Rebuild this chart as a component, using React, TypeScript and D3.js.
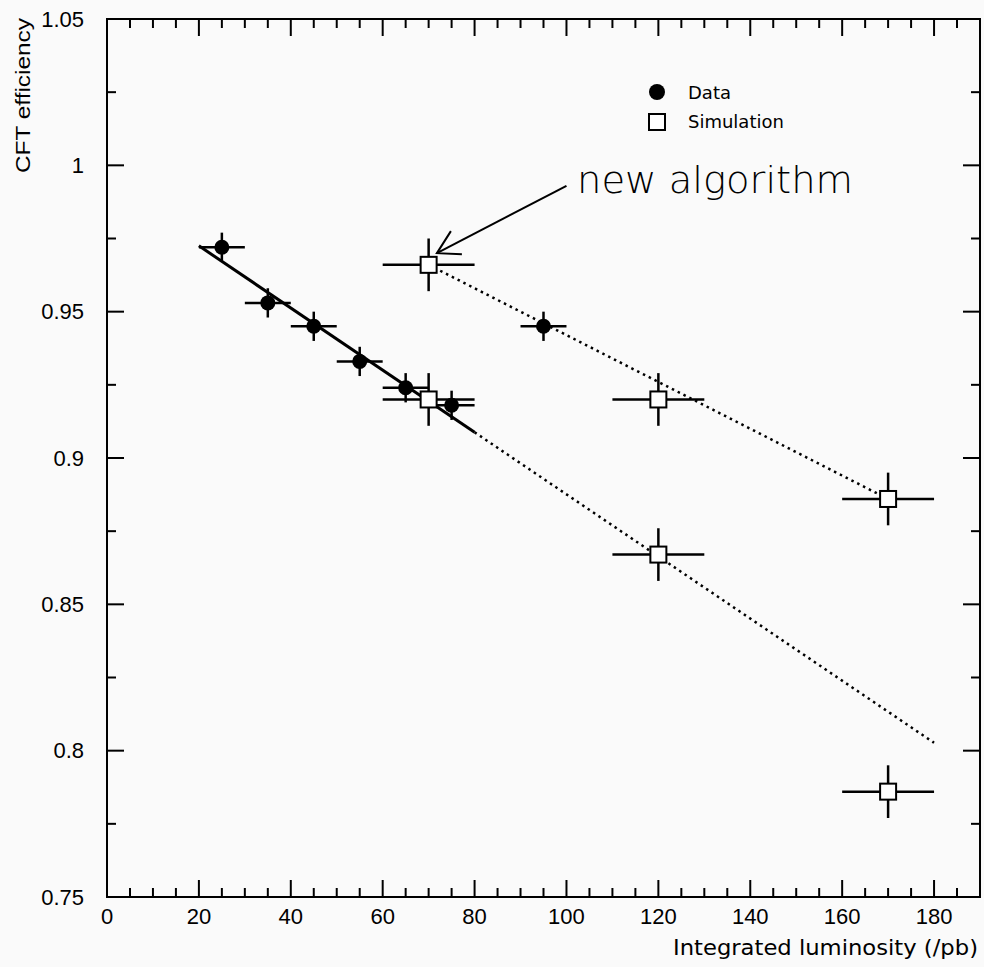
import React from 'react';
import * as d3 from 'd3';

// measured points
const dataLumi = [25, 35, 45, 55, 65, 75, 95];
const dataEff = [0.972, 0.953, 0.945, 0.933, 0.924, 0.918, 0.945];
const dataLumiErr = [5, 5, 5, 5, 5, 5, 5];
const dataEffErr = [0.005, 0.005, 0.005, 0.005, 0.005, 0.005, 0.005];

// simulation points
const simLumi = [70, 70, 120, 120, 170, 170];
const simEff = [0.966, 0.92, 0.92, 0.867, 0.886, 0.786];
const simLumiErr = [10, 10, 10, 10, 10, 10];
const simEffErr = [0.009, 0.009, 0.009, 0.009, 0.009, 0.009];

// straight-line fits
const fitOldLumi = [20, 80, 180];
const fitOldEff = [0.9725, 0.9088, 0.8027];
const fitNewLumi = [70, 170];
const fitNewEff = [0.966, 0.886];

const xMajor = [0, 20, 40, 60, 80, 100, 120, 140, 160, 180];
const yMajor = [0.75, 0.8, 0.85, 0.9, 0.95, 1, 1.05];
const yLabels = ['0.75', '0.8', '0.85', '0.9', '0.95', '1', '1.05'];

const W = 984;
const H = 967;
const margin = { top: 19, right: 4, bottom: 70, left: 107 };

const App = () => {
  const x = d3.scaleLinear().domain([0, 190]).range([margin.left, W - margin.right]);
  const y = d3.scaleLinear().domain([0.75, 1.05]).range([H - margin.bottom, margin.top]);

  const x0 = x.range()[0];
  const x1 = x.range()[1];
  const y0 = y.range()[0];
  const y1 = y.range()[1];

  const xMinor = d3.range(5, 190, 5).filter(v => v % 20 !== 0);
  const yMinor = d3.range(0.775, 1.05, 0.05);

  const line = d3.line<[number, number]>().x(d => x(d[0])).y(d => y(d[1]));
  const oldPts: [number, number][] = fitOldLumi.map((v, i) => [v, fitOldEff[i]]);
  const newPts: [number, number][] = fitNewLumi.map((v, i) => [v, fitNewEff[i]]);

  const tickFont = '"Liberation Sans", Arial, sans-serif';
  const roundFont = '"DejaVu Sans", sans-serif';
  const big = 17;
  const small = 9;

  const arrowTip: [number, number] = [x(71.8), y(0.970)];
  const arrowTail: [number, number] = [x(100), y(0.993)];

  return (
    <svg width={W} height={H} style={{ position: 'absolute', left: 0, top: 0, background: '#fafafa' }}>
      {/* ticks, all sides, pointing inward */}
      <g stroke="#000" strokeWidth={2}>
        {xMajor.map(v => (
          <g key={'xm' + v}>
            <line x1={x(v)} x2={x(v)} y1={y0} y2={y0 - big} />
            <line x1={x(v)} x2={x(v)} y1={y1} y2={y1 + big} />
          </g>
        ))}
        {xMinor.map(v => (
          <g key={'xn' + v}>
            <line x1={x(v)} x2={x(v)} y1={y0} y2={y0 - small} />
            <line x1={x(v)} x2={x(v)} y1={y1} y2={y1 + small} />
          </g>
        ))}
        {yMajor.map(v => (
          <g key={'ym' + v}>
            <line x1={x0} x2={x0 + big} y1={y(v)} y2={y(v)} />
            <line x1={x1} x2={x1 - big} y1={y(v)} y2={y(v)} />
          </g>
        ))}
        {yMinor.map(v => (
          <g key={'yn' + v}>
            <line x1={x0} x2={x0 + small} y1={y(v)} y2={y(v)} />
            <line x1={x1} x2={x1 - small} y1={y(v)} y2={y(v)} />
          </g>
        ))}
        <rect x={x0} y={y1} width={x1 - x0} height={y0 - y1} fill="none" />
      </g>

      {/* tick labels */}
      <g fontFamily={tickFont} fontSize={22} fill="#000">
        {xMajor.map(v => (
          <text key={'xl' + v} x={x(v)} y={y0 + 27} textAnchor="middle">{v}</text>
        ))}
        {yMajor.map((v, i) => (
          <text key={'yl' + v} x={x0 - 23} y={y(v)} textAnchor="end" dominantBaseline="central">{yLabels[i]}</text>
        ))}
      </g>

      {/* axis titles */}
      <text x={x1 - 2} y={955} textAnchor="end" fontFamily={roundFont} fontSize={21} textLength={305} lengthAdjust="spacingAndGlyphs">Integrated luminosity (/pb)</text>
      <text transform={`translate(30, ${y1 - 1}) rotate(-90)`} textAnchor="end" fontFamily={tickFont} fontSize={21} textLength={155} lengthAdjust="spacingAndGlyphs">CFT efficiency</text>

      {/* fit lines */}
      <path d={line(oldPts.slice(0, 2)) || ''} stroke="#000" strokeWidth={3} fill="none" />
      <path d={line(oldPts.slice(1)) || ''} stroke="#000" strokeWidth={2.5} strokeDasharray="2.5,4" fill="none" />
      <path d={line(newPts) || ''} stroke="#000" strokeWidth={2.5} strokeDasharray="2.5,4" fill="none" />

      {/* error bars */}
      <g stroke="#000" strokeWidth={2.5}>
        {dataLumi.map((v, i) => (
          <g key={'de' + i}>
            <line x1={x(v - dataLumiErr[i])} x2={x(v + dataLumiErr[i])} y1={y(dataEff[i])} y2={y(dataEff[i])} />
            <line x1={x(v)} x2={x(v)} y1={y(dataEff[i] - dataEffErr[i])} y2={y(dataEff[i] + dataEffErr[i])} />
          </g>
        ))}
        {simLumi.map((v, i) => (
          <g key={'se' + i}>
            <line x1={x(v - simLumiErr[i])} x2={x(v + simLumiErr[i])} y1={y(simEff[i])} y2={y(simEff[i])} />
            <line x1={x(v)} x2={x(v)} y1={y(simEff[i] - simEffErr[i])} y2={y(simEff[i] + simEffErr[i])} />
          </g>
        ))}
      </g>

      {/* markers */}
      {dataLumi.map((v, i) => (
        <circle key={'dc' + i} cx={x(v)} cy={y(dataEff[i])} r={7.5} fill="#000" />
      ))}
      {simLumi.map((v, i) => (
        <rect key={'sr' + i} x={x(v) - 8} y={y(simEff[i]) - 8} width={16} height={16} fill="#fff" stroke="#000" strokeWidth={2} />
      ))}

      {/* annotation */}
      <g stroke="#000" strokeWidth={2} fill="none">
        <line x1={arrowTail[0]} y1={arrowTail[1]} x2={arrowTip[0]} y2={arrowTip[1]} />
        <polyline points={`${arrowTip[0] + 14},${arrowTip[1] - 22} ${arrowTip[0]},${arrowTip[1]} ${arrowTip[0] + 25},${arrowTip[1] + 1}`} />
      </g>
      <text x={x(102.3)} y={y(0.9906)} fontFamily={roundFont} fontSize={38} fontWeight={200} textLength={276} lengthAdjust="spacingAndGlyphs">new algorithm</text>

      {/* legend */}
      <g fontFamily={roundFont} fontSize={18}>
        <circle cx={657} cy={92} r={8} fill="#000" />
        <text x={688} y={99}>Data</text>
        <rect x={649} y={114} width={16} height={16} fill="#fff" stroke="#000" strokeWidth={2} />
        <text x={688} y={128}>Simulation</text>
      </g>
    </svg>
  );
};

export default App;
